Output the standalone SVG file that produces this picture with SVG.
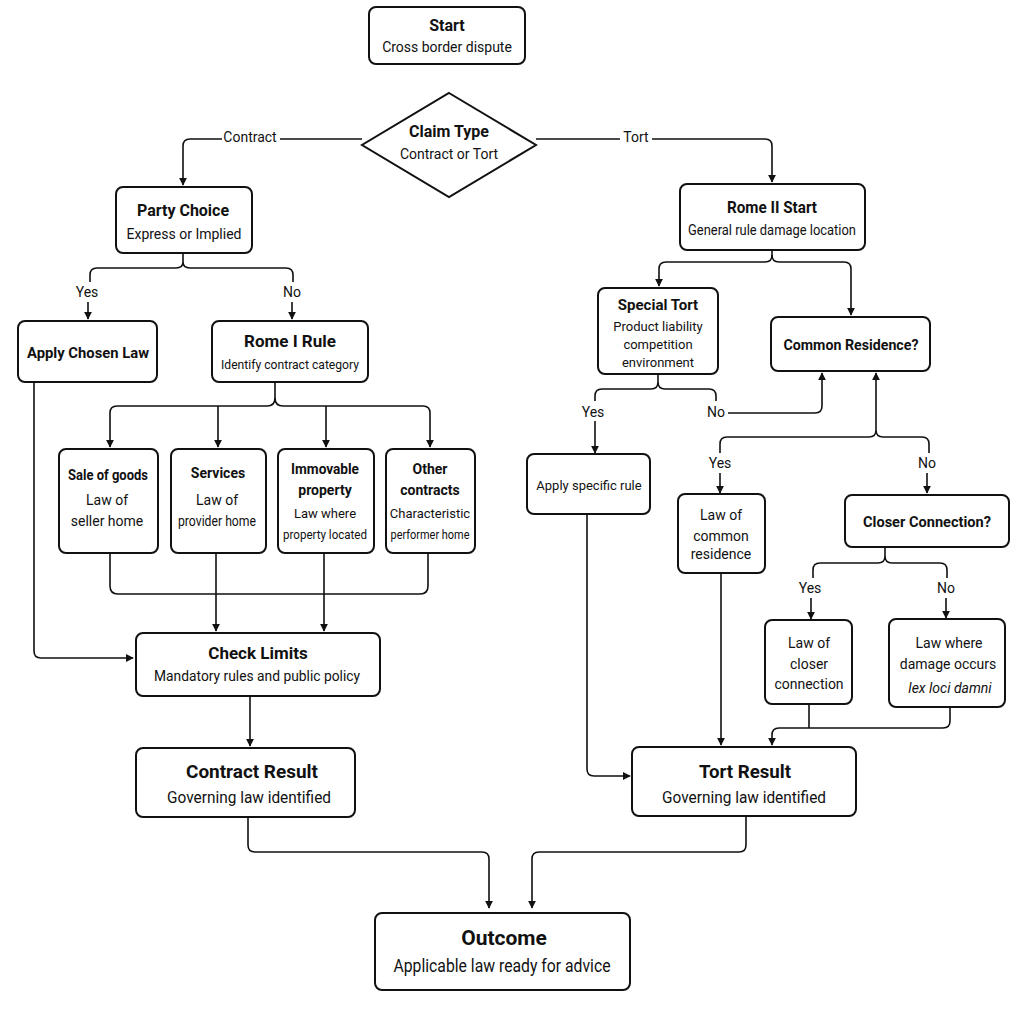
<svg xmlns="http://www.w3.org/2000/svg" width="1021" height="1009" viewBox="0 0 1021 1009">
<style>
.n{fill:#fff;stroke:#111;stroke-width:2}
text{font-family:Roboto,"Liberation Sans",sans-serif;fill:#111;text-anchor:middle}
.b{font-weight:bold;font-size:16px}
.t{font-size:14px}
.s{font-size:13px}
.c path{fill:none;stroke:#111;stroke-width:1.6}
.a{marker-end:url(#ar)}
</style>
<defs><marker id="ar" viewBox="0 0 10 10" refX="9" refY="5" markerWidth="8" markerHeight="8" markerUnits="userSpaceOnUse" orient="auto"><path d="M0,0L10,5L0,10z" fill="#111"/></marker></defs>
<g class="c">
<path class="a" d="M362,139H280M222,139H190Q183,139 183,146V185"/>
<path class="a" d="M536,139H620M652,139H765Q772,139 772,146V182"/>
<path d="M183,253V262Q183,268 176,268H97Q90,268 90,275V282M183,262Q183,268 190,268H286Q293,268 293,275V282"/>
<path class="a" d="M88,302V319"/><path class="a" d="M292,302V319"/>
<path class="a" d="M275,382V398Q275,406 267,406H117Q110,406 110,413V447"/>
<path class="a" d="M275,398Q275,406 283,406H423Q430,406 430,413V447"/>
<path class="a" d="M218,406Q218,406 218,413V447"/><path class="a" d="M326,406V447"/>
<path d="M110,553V586Q110,594 118,594H420Q428,594 428,586V553"/>
<path class="a" d="M216,553V631"/><path class="a" d="M324,553V631"/>
<path class="a" d="M34,382V651Q34,658 41,658H133"/>
<path class="a" d="M250,696V746"/>
<path class="a" d="M248,817V845Q248,852 255,852H482Q489,852 489,859V908"/>
<path class="a" d="M746,816V845Q746,852 739,852H539Q532,852 532,859V908"/>
<path class="a" d="M772,250V255Q772,262 765,262H666Q659,262 659,269V286"/>
<path class="a" d="M772,255Q772,262 779,262H844Q851,262 851,269V315"/>
<path d="M658,374V382Q658,389 651,389H602Q595,389 595,396V401M658,382Q658,389 665,389H709Q716,389 716,396V401"/>
<path class="a" d="M595,421V453"/>
<path class="a" d="M728,413H815Q822,413 822,406V373"/>
<path class="a" d="M876,430V373"/>
<path d="M876,430Q876,437 869,437H727Q720,437 720,444V453M876,430Q876,437 883,437H922Q929,437 929,444V453"/>
<path class="a" d="M720,473V493"/><path class="a" d="M927,473V493"/>
<path d="M885,547V556Q885,563 878,563H820Q813,563 813,570V578M885,556Q885,563 892,563H940Q947,563 947,570V578"/>
<path class="a" d="M811,598V619"/><path class="a" d="M946,598V618"/>
<path class="a" d="M950,707V721Q950,728 943,728H779Q772,728 772,735V745"/>
<path d="M809,704V728"/>
<path class="a" d="M587,514V769Q587,776 594,776H630"/>
<path class="a" d="M721,573V745"/>
</g>
<text class="t" x="250" y="142">Contract</text>
<text class="t" x="636" y="142">Tort</text>
<text class="t" x="87" y="297">Yes</text><text class="t" x="292" y="297">No</text>
<text class="t" x="593" y="417">Yes</text><text class="t" x="716" y="417">No</text>
<text class="t" x="720" y="468">Yes</text><text class="t" x="927" y="468">No</text>
<text class="t" x="810" y="593">Yes</text><text class="t" x="946" y="593">No</text>
<g id="start"><rect class="n" x="369" y="7" width="156" height="57" rx="7"/><text class="b" x="447" y="31">Start</text><text class="t" x="447" y="52">Cross border dispute</text></g>
<g id="claim"><path class="n" d="M449,93L536,145L449,197L362,145z"/><text class="b" x="449" y="137">Claim Type</text><text class="t" x="449" y="159">Contract or Tort</text></g>
<g id="party"><rect class="n" x="116" y="187" width="136" height="66" rx="7"/><text class="b" x="183" y="216">Party Choice</text><text class="t" x="184" y="239">Express or Implied</text></g>
<g id="chosen"><rect class="n" x="18" y="321" width="139" height="61" rx="7"/><text class="b" x="88" y="358" style="font-size:15px" textLength="122" lengthAdjust="spacingAndGlyphs">Apply Chosen Law</text></g>
<g id="rome1"><rect class="n" x="212" y="321" width="156" height="61" rx="7"/><text class="b" x="290" y="347" style="font-size:17px">Rome I Rule</text><text class="s" x="290" y="369" textLength="138" lengthAdjust="spacingAndGlyphs">Identify contract category</text></g>
<g id="sale"><rect class="n" x="59" y="449" width="99" height="104" rx="7"/><text class="b" x="108" y="480" style="font-size:14px" textLength="80" lengthAdjust="spacingAndGlyphs">Sale of goods</text><text class="t" x="107" y="505">Law of</text><text class="t" x="107" y="526">seller home</text></g>
<g id="services"><rect class="n" x="171" y="449" width="95" height="104" rx="7"/><text class="b" x="218" y="478" style="font-size:14px">Services</text><text class="t" x="217" y="505">Law of</text><text class="t" x="217" y="526" textLength="78" lengthAdjust="spacingAndGlyphs">provider home</text></g>
<g id="immovable"><rect class="n" x="278" y="449" width="96" height="104" rx="7"/><text class="b" x="325" y="474" style="font-size:14px" textLength="68" lengthAdjust="spacingAndGlyphs">Immovable</text><text class="b" x="325" y="495" style="font-size:14px">property</text><text class="s" x="325" y="518">Law where</text><text class="s" x="325" y="539" textLength="84" lengthAdjust="spacingAndGlyphs">property located</text></g>
<g id="other"><rect class="n" x="386" y="449" width="89" height="104" rx="7"/><text class="b" x="430" y="474" style="font-size:14px">Other</text><text class="b" x="430" y="495" style="font-size:14px">contracts</text><text class="s" x="430" y="518">Characteristic</text><text class="s" x="430" y="539" textLength="79" lengthAdjust="spacingAndGlyphs">performer home</text></g>
<g id="check"><rect class="n" x="136" y="633" width="244" height="63" rx="7"/><text class="b" x="258" y="659" style="font-size:17px">Check Limits</text><text class="t" x="257" y="681" style="font-size:15px" textLength="206" lengthAdjust="spacingAndGlyphs">Mandatory rules and public policy</text></g>
<g id="cresult"><rect class="n" x="136" y="748" width="219" height="69" rx="7"/><text class="b" x="252" y="778" style="font-size:19px" textLength="132" lengthAdjust="spacingAndGlyphs">Contract Result</text><text class="t" x="249" y="803" style="font-size:17px" textLength="164" lengthAdjust="spacingAndGlyphs">Governing law identified</text></g>
<g id="outcome"><rect class="n" x="375" y="913" width="255" height="77" rx="7"/><text class="b" x="504" y="945" style="font-size:21px">Outcome</text><text class="t" x="502" y="972" style="font-size:18px" textLength="217" lengthAdjust="spacingAndGlyphs">Applicable law ready for advice</text></g>
<g id="tresult"><rect class="n" x="632" y="747" width="224" height="69" rx="7"/><text class="b" x="745" y="778" style="font-size:19px" textLength="92" lengthAdjust="spacingAndGlyphs">Tort Result</text><text class="t" x="744" y="803" style="font-size:17px" textLength="164" lengthAdjust="spacingAndGlyphs">Governing law identified</text></g>
<g id="rome2"><rect class="n" x="680" y="184" width="185" height="66" rx="7"/><text class="b" x="772" y="213" textLength="90" lengthAdjust="spacingAndGlyphs">Rome II Start</text><text class="t" x="772" y="235" textLength="168" lengthAdjust="spacingAndGlyphs">General rule damage location</text></g>
<g id="special"><rect class="n" x="598" y="288" width="120" height="86" rx="7"/><text class="b" x="658" y="310" style="font-size:15px">Special Tort</text><text class="s" x="658" y="331">Product liability</text><text class="s" x="658" y="349">competition</text><text class="s" x="658" y="367">environment</text></g>
<g id="common"><rect class="n" x="771" y="317" width="159" height="54" rx="7"/><text class="b" x="851" y="350" style="font-size:15px" textLength="135" lengthAdjust="spacingAndGlyphs">Common Residence?</text></g>
<g id="specific"><rect class="n" x="527" y="454" width="123" height="60" rx="7"/><text class="s" x="589" y="490">Apply specific rule</text></g>
<g id="lawcommon"><rect class="n" x="678" y="494" width="87" height="79" rx="7"/><text class="t" x="721" y="520">Law of</text><text class="t" x="721" y="541">common</text><text class="t" x="721" y="559">residence</text></g>
<g id="closer"><rect class="n" x="845" y="495" width="164" height="52" rx="7"/><text class="b" x="927" y="527" style="font-size:15px" textLength="128" lengthAdjust="spacingAndGlyphs">Closer Connection?</text></g>
<g id="lawcloser"><rect class="n" x="765" y="620" width="87" height="84" rx="7"/><text class="t" x="809" y="648">Law of</text><text class="t" x="809" y="669">closer</text><text class="t" x="809" y="689">connection</text></g>
<g id="lawdamage"><rect class="n" x="889" y="619" width="116" height="88" rx="7"/><text class="t" x="949" y="648">Law where</text><text class="t" x="948" y="669">damage occurs</text><text class="t" x="950" y="693" style="font-style:italic">lex loci damni</text></g>
</svg>
